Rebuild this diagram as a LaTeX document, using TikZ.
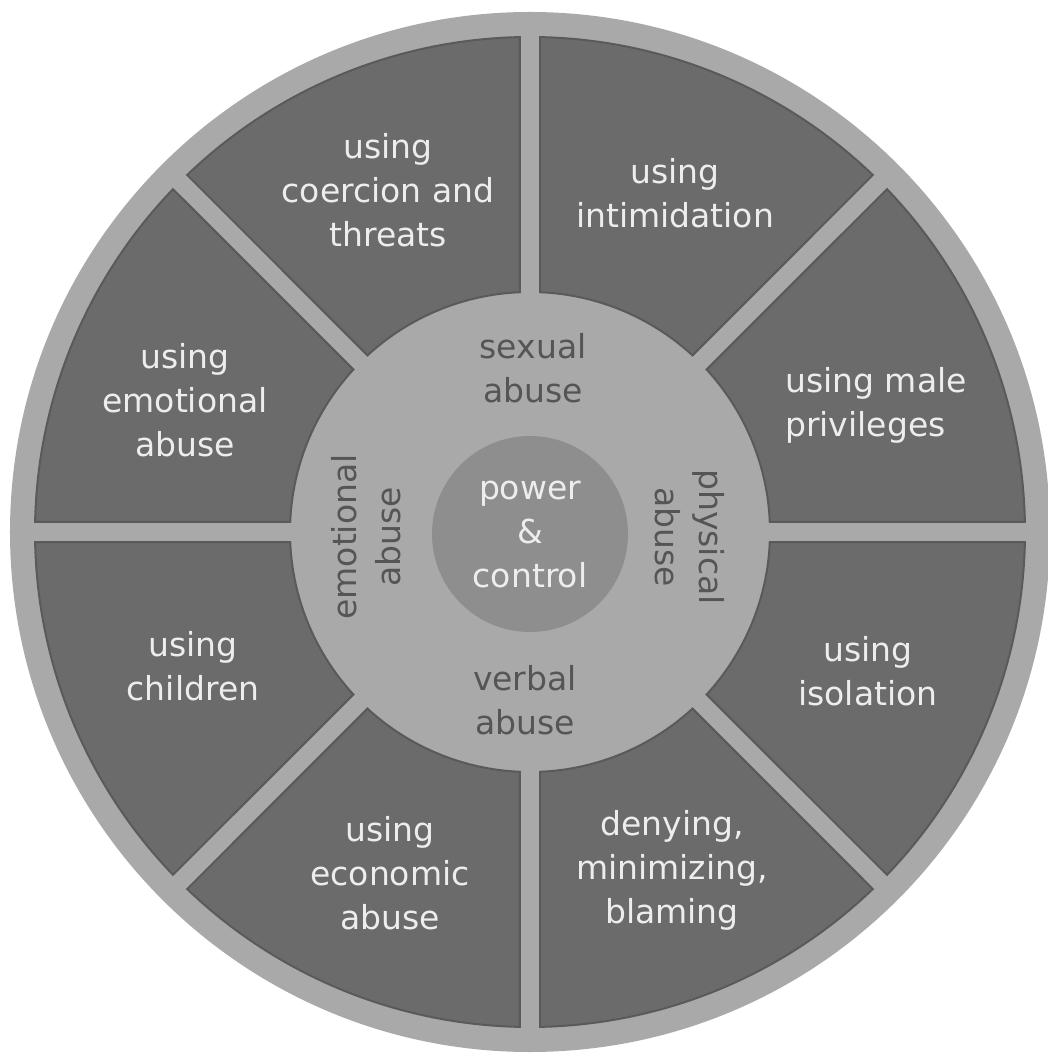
\documentclass[tikz,border=0pt]{standalone}
\usepackage{fontspec}
\setmainfont{DejaVu Sans}

\definecolor{ringgray}{HTML}{A9A9A9}
\definecolor{seggray}{HTML}{6B6B6B}
\definecolor{segedge}{HTML}{5A5A5A}
\definecolor{hubgray}{HTML}{8E8E8E}
\definecolor{lighttext}{HTML}{EDEDED}
\definecolor{darktext}{HTML}{555555}

\newcommand\wheelfont{\fontsize{33}{44}\selectfont}

\tikzset{
  segment/.style={fill=seggray,draw=segedge,line width=2pt},
  seglabel/.style={text=lighttext},
  abuselabel/.style={text=darktext},
}

\begin{document}
\begin{tikzpicture}[x=1pt,y=1pt]
  \useasboundingbox (-530,-527) rectangle (518,532);
  % outer ring, spokes and middle disk all in the light gray
  \fill[ringgray] (0,0) circle (520);
  \foreach \a in {0,45,...,315} {
    \filldraw[segment] (\a+2.39:240) -- (\a+1.16:495)
      arc[start angle=\a+1.16,end angle=\a+43.84,radius=495]
      -- (\a+42.61:240)
      arc[start angle=\a+42.61,end angle=\a+2.39,radius=240] -- cycle;
  }
  \begin{scope}[every node/.style={font=\wheelfont,align=center}]
  \node[seglabel] (coercion) at (-142,342) {using\\coercion and\\threats};
  \node[seglabel] (intimidation) at (145,339) {using\\intimidation};
  \node[seglabel,align=left] (male) at (346,127) {using male\\privileges};
  \node[seglabel] (isolation) at (338,-139) {using\\isolation};
  \node[seglabel] (denying) at (142,-338) {denying,\\minimizing,\\blaming};
  \node[seglabel] (economic) at (-140,-341) {using\\economic\\abuse};
  \node[seglabel] (children) at (-337,-134) {using\\children};
  \node[seglabel] (emotional) at (-345,132) {using\\emotional\\abuse};
  \node[abuselabel] (sexual) at (3,164) {sexual\\abuse};
  \node[abuselabel,rotate=-90] (physical) at (160,-5) {physical\\abuse};
  \node[abuselabel] (verbal) at (-5,-168) {verbal\\abuse};
  \node[abuselabel,rotate=90] (emoabuse) at (-164,-5) {emotional\\abuse};
  \node[circle,fill=hubgray,minimum size=196pt,text=lighttext] (power) at (0,-2) {power\\\&\\control};
  \end{scope}
\end{tikzpicture}
\end{document}
